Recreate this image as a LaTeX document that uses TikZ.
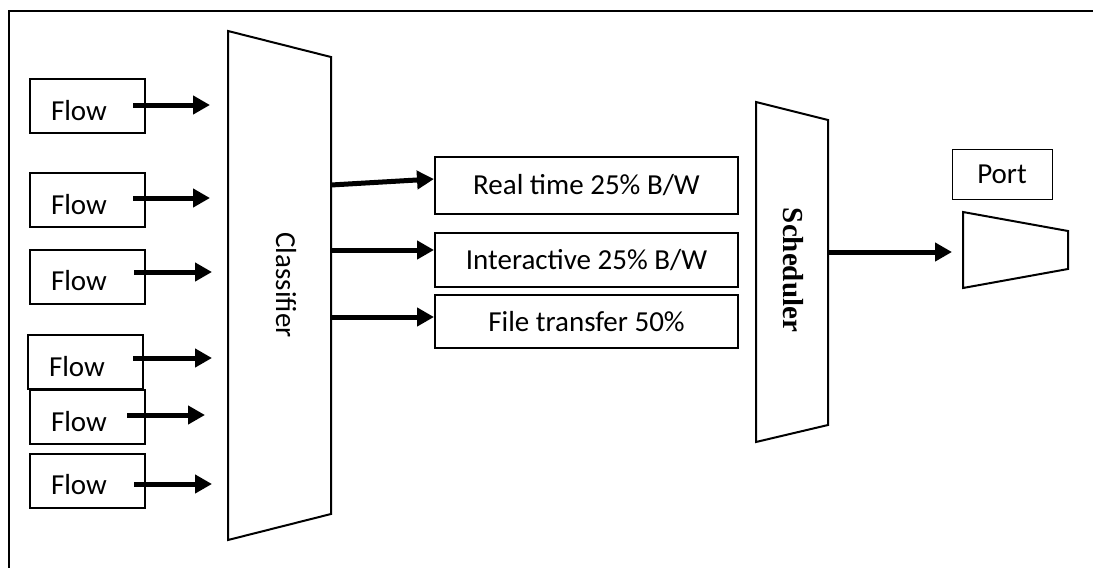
\documentclass[tikz,border=0pt]{standalone}
\usepackage{fontspec}
\setmainfont{Carlito}
\newfontfamily\schedfont{Liberation Serif}
\usetikzlibrary{arrows.meta}
\newcommand{\flowtext}{\raisebox{-4pt}[\height][0pt]{Flow}}

\begin{document}
\begin{tikzpicture}[x=1pt,y=-1pt,
  flowbox/.style={draw,line width=2pt,minimum width=115pt,minimum height=54pt,
    inner xsep=21pt,text width=73pt,align=left,font=\fontsize{29}{34}\selectfont},
  queuebox/.style={draw,line width=2pt,minimum width=303pt,
    font=\fontsize{29}{34}\selectfont},
  thickarrow/.style={line width=5pt,-{Triangle[length=17pt,width=18pt]}},
  block/.style={draw,line width=2pt,line join=miter},
]
\useasboundingbox (0,0) rectangle (1093,568);

% outer frame (top and left edges)
\draw[line width=2pt] (1093,11) -- (9,11) -- (9,568);

% incoming flows
\node[flowbox] (f1) at (87.5,106) {\flowtext};
\node[flowbox] (f2) at (87.5,200) {\flowtext};
\node[flowbox] (f3) at (87.5,276.5) {\flowtext};
\node[flowbox] (f4) at (85.5,362) {\flowtext};
\node[flowbox] (f5) at (87.5,417) {\flowtext};
\node[flowbox] (f6) at (87.5,480.5) {\flowtext};

% classifier
\coordinate (clsA) at (228,31);
\coordinate (clsB) at (331,57);
\coordinate (clsC) at (331,514);
\coordinate (clsD) at (228,540);
\draw[block] (clsA) -- (clsB) -- (clsC) -- (clsD) -- cycle;
\node[rotate=-90,font=\fontsize{29}{34}\selectfont] (cls) at (286,285) {Classifier};

% arrows from flows towards the classifier
\coordinate (t1) at (210,105);
\coordinate (t2) at (210,198);
\coordinate (t3) at (212,272);
\coordinate (t4) at (212,358);
\coordinate (t5) at (205,415);
\coordinate (t6) at (212,484);
\draw[thickarrow] ([xshift=45.5pt,yshift=1pt]f1.center) -- (t1);
\draw[thickarrow] ([xshift=45.5pt,yshift=2pt]f2.center) -- (t2);
\draw[thickarrow] ([xshift=46.5pt,yshift=4.5pt]f3.center) -- (t3);
\draw[thickarrow] ([xshift=47.5pt,yshift=4pt]f4.center) -- (t4);
\draw[thickarrow] ([xshift=39.5pt,yshift=2pt]f5.center) -- (t5);
\draw[thickarrow] ([xshift=46.5pt,yshift=-3.5pt]f6.center) -- (t6);

% traffic classes
\node[queuebox,minimum height=57pt] (rt) at (586.5,185.5) {Real time 25\% B/W};
\node[queuebox,minimum height=54pt] (ia) at (586.5,260) {Interactive 25\% B/W};
\node[queuebox,minimum height=53pt] (ft) at (586.5,321.5) {File transfer 50\%};

\coordinate (o1) at (331,185);
\coordinate (o2) at (331,250);
\coordinate (o3) at (331,317);
\draw[thickarrow] (o1) -- ([yshift=6.5pt]rt.west);
\draw[thickarrow] (o2) -- ([yshift=10pt]ia.west);
\draw[thickarrow] (o3) -- ([yshift=4.5pt]ft.west);

% scheduler
\coordinate (schA) at (756,102);
\coordinate (schB) at (828,120);
\coordinate (schC) at (828,425);
\coordinate (schD) at (756,442);
\draw[block] (schA) -- (schB) -- (schC) -- (schD) -- cycle;
\node[rotate=-90,font=\schedfont\bfseries\fontsize{29}{34}\selectfont] (sch) at (793,270) {Scheduler};

% output port
\node[draw,line width=1pt,minimum width=100pt,minimum height=50pt,
  font=\fontsize{29}{34}\selectfont] (portlbl) at (1002,174) {Port};
\coordinate (pA) at (963,212);
\coordinate (pB) at (1068,231);
\coordinate (pC) at (1068,269);
\coordinate (pD) at (963,288);
\draw[block] (pA) -- (pB) -- (pC) -- (pD) -- cycle;
\coordinate (sOut) at (828,252);
\coordinate (pIn) at (952,252);
\draw[thickarrow] (sOut) -- (pIn);
\end{tikzpicture}
\end{document}
